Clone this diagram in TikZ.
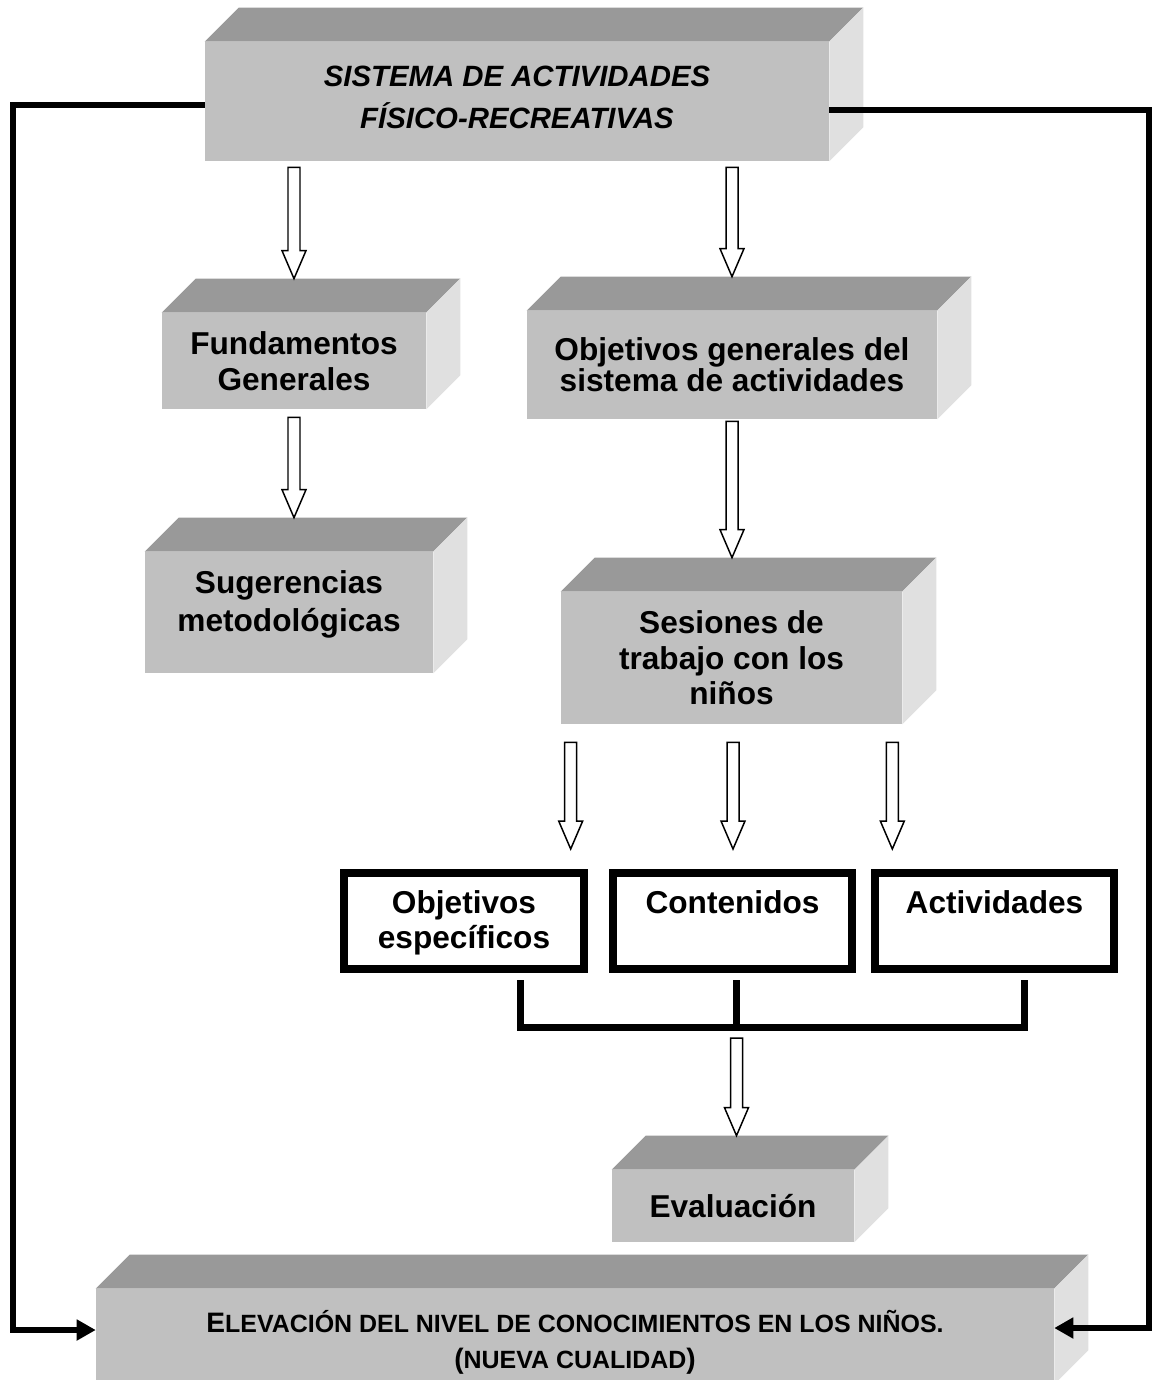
\documentclass[tikz,border=0pt]{standalone}
\usepackage{fontspec}
\setmainfont{Liberation Sans}
\usetikzlibrary{calc,arrows.meta}

\definecolor{frente}{HTML}{C0C0C0}
\definecolor{tapa}{HTML}{999999}
\definecolor{lado}{HTML}{E0E0E0}

\def\prof{34}
\tikzstyle{caja}=[fill=frente, inner sep=0pt, align=center, font=\bfseries\fontsize{18}{20.4}\selectfont]
\tikzstyle{blanca}=[draw, line width=0.16cm, fill=white, inner sep=0pt, align=center, minimum width=4.8cm, minimum height=1.92cm, text height=0.8cm, text depth=1.12cm, font=\bfseries\fontsize{18}{19.8}\selectfont]
\tikzstyle{linea}=[line width=0.12cm, -{Triangle[length=0.38cm, width=0.4cm]}]
\tikzstyle{corchete}=[line width=0.14cm, line join=miter]
\tikzstyle{hueca}=[fill=white, line width=0.85pt, to path={
    ($(\tikztostart)+(-6,0)$) -- ($(\tikztotarget)+(-6,-28)$) -- ($(\tikztotarget)+(-12,-28)$)
    -- (\tikztotarget) -- ($(\tikztotarget)+(12,-28)$) -- ($(\tikztotarget)+(6,-28)$)
    -- ($(\tikztostart)+(6,0)$) -- cycle}]

% caras de arriba y de la derecha de una caja
\newcommand{\volumen}[1]{%
    \fill[tapa] (#1.north west) -- ++(\prof,-\prof) -- ($(#1.north east)+(\prof,-\prof)$) -- (#1.north east) -- cycle;
    \fill[lado] (#1.north east) -- ++(\prof,-\prof) -- ($(#1.south east)+(\prof,-\prof)$) -- (#1.south east) -- cycle;}
% versalitas
\newcommand{\vers}[1]{{\fontsize{14.2}{20.4}\selectfont #1}}

\begin{document}
\begin{tikzpicture}[x=0.02cm, y=-0.02cm]
        \useasboundingbox (0,0) rectangle (1152,1380);

        %% Cajas grises
        \node[caja, minimum width=12.48cm, minimum height=2.38cm, text height=1.74cm, text depth=0.64cm,
            font=\bfseries\itshape\fontsize{16.7}{24.4}\selectfont] (sistema) at (517, 101.5)
            {SISTEMA DE ACTIVIDADES\\FÍSICO-RECREATIVAS};
        \volumen{sistema}
        \node[caja, minimum width=5.28cm, minimum height=1.92cm] (fund) at (294, 361) {Fundamentos\\Generales};
        \volumen{fund}
        \node[caja, minimum width=8.2cm, minimum height=2.16cm, font=\bfseries\fontsize{18}{17.6}\selectfont] (objgen) at (732, 365)
            {Objetivos generales del\\sistema de actividades};
        \volumen{objgen}
        \node[caja, minimum width=5.76cm, minimum height=2.42cm, text height=1.58cm, text depth=0.84cm,
            font=\bfseries\fontsize{18}{21.3}\selectfont] (sug) at (289, 612.5) {Sugerencias\\metodológicas};
        \volumen{sug}
        \node[caja, minimum width=6.82cm, minimum height=2.64cm, font=\bfseries\fontsize{18}{20.1}\selectfont] (ses) at (731.5, 658)
            {Sesiones de\\trabajo con los\\niños};
        \volumen{ses}
        \node[caja, minimum width=4.84cm, minimum height=1.44cm] (eval) at (733, 1206) {Evaluación};
        \volumen{eval}
        \node[caja, minimum width=19.16cm, minimum height=1.9cm, text height=1.58cm, text depth=0.32cm,
            font=\bfseries\fontsize{16}{20.4}\selectfont] (elevacion) at (575, 1336.5)
            {E\vers{LEVACIÓN DEL NIVEL DE CONOCIMIENTOS EN LOS NIÑOS.}\\
             (\vers{NUEVA CUALIDAD})};
        \volumen{elevacion}

        %% Cajas blancas
        \node[blanca, text height=1.5cm, text depth=0.42cm] (obj) at (464, 921) {Objetivos\\específicos};
        \node[blanca] (cont) at (732.5, 921) {Contenidos};
        \node[blanca] (act) at (994.5, 921) {Actividades};

        % Corchete
        \draw[corchete] ($(obj.south)+(56,7)$) |- ($(act.south)+(29.5,54)$) -- ($(act.south)+(29.5,7)$);
        \draw[corchete] ($(cont.south)+(3.5,7)$) -- ++(0,47);

        %% Flechas huecas
        \draw[hueca] ($(sistema.south -| fund.north)+(0,6)$) to ($(fund.north)+(0,-\prof)$);
        \draw[hueca] ($(sistema.south -| objgen.north)+(0,6)$) to ($(objgen.north)+(0,-\prof)$);
        \draw[hueca] ($(fund.south)+(0,8)$) to ($(fund.south |- sug.north)+(0,-\prof)$);
        \draw[hueca] ($(objgen.south)+(0,2)$) to ($(objgen.south |- ses.north)+(0,-\prof)$);
        \coordinate (s1) at ($(ses.south west)+(10,18)$);
        \coordinate (s2) at ($(ses.south)+(1.5,18)$);
        \coordinate (s3) at ($(ses.south east)+(-10,18)$);
        \draw[hueca] (s1) to ($(s1 |- obj.north)+(0,-20)$);
        \draw[hueca] (s2) to ($(s2 |- cont.north)+(0,-20)$);
        \draw[hueca] (s3) to ($(s3 |- act.north)+(0,-20)$);
        \draw[hueca] ($(cont.south)+(4,65)$) to ($(eval.north)+(3.5,-\prof)$);

        %% Lazo exterior
        \coordinate (izq) at (13, 0);
        \coordinate (der) at (1149, 0);
        \coordinate (a_izq) at ($(sistema.west)+(0,3.5)$);
        \coordinate (a_der) at ($(sistema.east)+(0,8.5)$);
        \coordinate (b_izq) at ($(elevacion.west)+(0,-6.5)$);
        \coordinate (b_der) at ($(elevacion.east)+(0,-8.5)$);
        \draw[linea] (a_izq) -- (a_izq -| izq) |- (b_izq);
        \draw[linea] (a_der) -- (a_der -| der) |- (b_der);
    \end{tikzpicture}
\end{document}
